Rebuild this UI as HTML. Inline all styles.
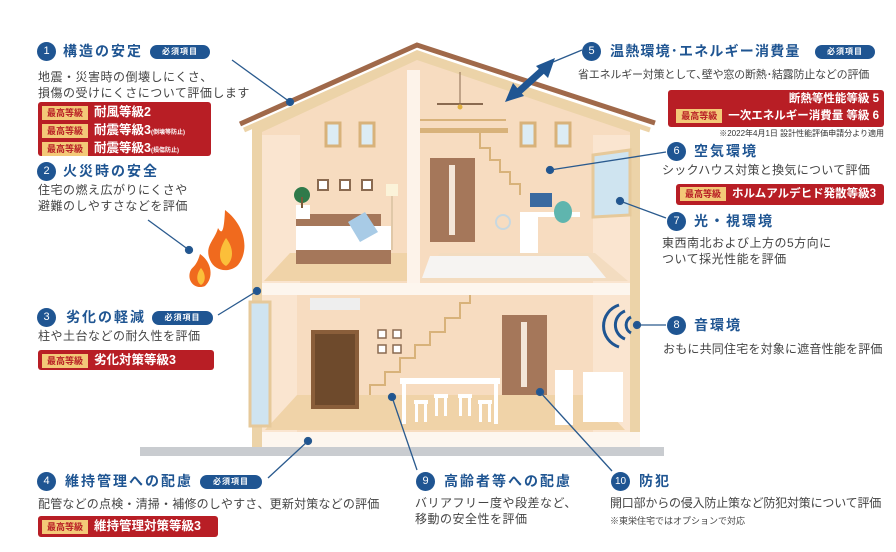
<!DOCTYPE html>
<html><head><meta charset="utf-8">
<style>
*{margin:0;padding:0;box-sizing:border-box}
body{width:896px;height:552px;background:#fff;position:relative;overflow:hidden;font-family:"Liberation Sans","Noto Sans CJK JP",sans-serif;color:#333}
.a{position:absolute;white-space:nowrap}
.n{position:absolute;width:19px;height:19px;border-radius:50%;background:#1f5592;color:#fff;font-size:11px;line-height:19px;text-align:center}
.t{position:absolute;color:#1f5592;font-weight:bold;font-size:14px;letter-spacing:2px;white-space:nowrap;line-height:19px}
.b{position:absolute;background:#1f5592;color:#fff;font-size:8px;font-weight:bold;border-radius:8px;height:14px;line-height:14px;text-align:center;letter-spacing:1px}
.d{position:absolute;font-size:12px;color:#444;white-space:nowrap;line-height:15.5px;letter-spacing:.5px}
.r{position:absolute;background:#b81e25;border-radius:3px;color:#fff;font-weight:bold;font-size:12.5px;white-space:nowrap;overflow:hidden}
.g{display:inline-block;background:#f3c978;color:#b81e25;font-size:9px;padding:0 5px;height:14px;line-height:14px;vertical-align:middle;margin-right:6px;letter-spacing:0}
.row{height:18px;line-height:18px;padding-left:4px}
</style></head><body>
<svg width="896" height="552" style="position:absolute;left:0;top:0">
<rect x="140" y="447" width="524" height="9" fill="#c9ccd0"/>
<polygon points="252,128 417,50 640,128 640,447 252,447" fill="#ecd3a8"/>
<polygon points="262,132 417,60 630,132 630,432 262,432" fill="#f7dcc0"/>
<rect x="262" y="135" width="38" height="150" fill="#fae5d0"/>
<rect x="593" y="135" width="37" height="150" fill="#fae5d0"/>
<rect x="262" y="295" width="35" height="137" fill="#fae5d0"/>
<rect x="593" y="295" width="37" height="137" fill="#fae5d0"/>
<rect x="407" y="70" width="13" height="215" fill="#fdf3ea"/>
<rect x="262" y="283" width="368" height="12" fill="#fdf6ee"/>
<rect x="262" y="432" width="378" height="15" fill="#fdf6ee"/>
<polygon points="290,253 407,253 407,281 264,281" fill="#f0d3a8"/>
<polygon points="440,253 595,253 628,281 420,281" fill="#f3dcc0"/>
<polygon points="430,256 588,256 606,278 422,278" fill="#f6f4f2"/>
<polygon points="297,395 593,395 625,430 265,430" fill="#f0d3a8"/>
<polyline points="240,124 417,45 655,123" fill="none" stroke="#a0694a" stroke-width="5"/>
<polyline points="244,130 417,53 650,130" fill="none" stroke="#ecd3a8" stroke-width="5"/>
<rect x="326" y="123" width="14" height="23" fill="#dcecf4" stroke="#d8b27a" stroke-width="3"/>
<rect x="360" y="123" width="14" height="23" fill="#dcecf4" stroke="#d8b27a" stroke-width="3"/>
<rect x="521" y="123" width="14" height="23" fill="#dcecf4" stroke="#d8b27a" stroke-width="3"/>
<rect x="556" y="123" width="14" height="23" fill="#dcecf4" stroke="#d8b27a" stroke-width="3"/>
<rect x="420" y="128" width="88" height="5" fill="#d8b27a"/>
<line x1="420" y1="120" x2="506" y2="120" stroke="#d8b27a" stroke-width="2"/>
<line x1="437" y1="104" x2="483" y2="104" stroke="#8a6a50" stroke-width="2"/>
<line x1="460" y1="72" x2="460" y2="104" stroke="#8a6a50" stroke-width="1"/>
<circle cx="460" cy="107" r="2.5" fill="#e0b040"/>
<polyline points="480,133 480,148 490,148 490,160 500,160 500,172 510,172 510,184 520,184 520,195" fill="none" stroke="#d8b27a" stroke-width="2"/>
<rect x="430" y="158" width="45" height="84" fill="#a5775a"/>
<rect x="449" y="165" width="6" height="70" fill="#f4e6d8"/>
<polygon points="593,155 630,150 630,215 593,217" fill="#cfe4f0" stroke="#e6c99a" stroke-width="3"/>
<rect x="296" y="214" width="85" height="12" fill="#a5775a"/>
<rect x="296" y="226" width="95" height="24" fill="#fff"/>
<rect x="296" y="250" width="95" height="14" fill="#a5775a"/>
<polygon points="348,222 365,212 378,232 360,242" fill="#a8cbe6"/>
<rect x="296" y="205" width="14" height="14" fill="#fff"/>
<circle cx="302" cy="195" r="8" fill="#2f7a4a"/>
<line x1="302" y1="197" x2="302" y2="208" stroke="#7a5a3a" stroke-width="2"/>
<rect x="318" y="180" width="10" height="10" fill="#fff" stroke="#8a6a50" stroke-width="2"/>
<rect x="340" y="180" width="10" height="10" fill="#fff" stroke="#8a6a50" stroke-width="2"/>
<rect x="362" y="180" width="10" height="10" fill="#fff" stroke="#8a6a50" stroke-width="2"/>
<rect x="386" y="184" width="12" height="12" fill="#fbf3d9"/>
<line x1="392" y1="196" x2="392" y2="250" stroke="#e0c8a8" stroke-width="2"/>
<rect x="520" y="212" width="60" height="5" fill="#fff"/>
<rect x="520" y="217" width="18" height="36" fill="#fff"/>
<rect x="530" y="193" width="22" height="14" fill="#3a6aa0"/>
<ellipse cx="563" cy="212" rx="9" ry="11" fill="#5fb5ae"/>
<circle cx="503" cy="222" r="7" fill="none" stroke="#c8d8e0" stroke-width="2"/>
<rect x="310" y="298" width="50" height="12" fill="#eeeeee"/>
<rect x="250" y="302" width="20" height="124" fill="#cfe4f0" stroke="#e6c99a" stroke-width="3"/>
<rect x="311" y="330" width="48" height="79" fill="#8a5e3a"/>
<rect x="315" y="334" width="40" height="71" fill="#6e4a2c"/>
<rect x="378" y="330" width="8" height="8" fill="#fff" stroke="#8a6a50" stroke-width="1.5"/>
<rect x="393" y="330" width="8" height="8" fill="#fff" stroke="#8a6a50" stroke-width="1.5"/>
<rect x="378" y="345" width="8" height="8" fill="#fff" stroke="#8a6a50" stroke-width="1.5"/>
<rect x="393" y="345" width="8" height="8" fill="#fff" stroke="#8a6a50" stroke-width="1.5"/>
<polyline points="370,395 370,385 385,385 385,372 400,372 400,358 415,358 415,345 430,345 430,332 445,332 445,318 460,318 460,303 470,303 470,295" fill="none" stroke="#d8b27a" stroke-width="2"/>
<rect x="502" y="315" width="45" height="80" fill="#a5775a"/>
<rect x="521" y="322" width="6" height="65" fill="#f4e6d8"/>
<rect x="400" y="378" width="100" height="6" fill="#fff"/>
<rect x="402" y="384" width="4" height="40" fill="#fff"/>
<rect x="494" y="384" width="4" height="40" fill="#fff"/>
<g fill="#fff"><rect x="414" y="400" width="14" height="4"/><rect x="415" y="404" width="3" height="18"/><rect x="424" y="404" width="3" height="18"/>
<rect x="434" y="394" width="14" height="4"/><rect x="435" y="398" width="3" height="18"/><rect x="444" y="398" width="3" height="18"/>
<rect x="458" y="394" width="14" height="4"/><rect x="459" y="398" width="3" height="18"/><rect x="468" y="398" width="3" height="18"/>
<rect x="478" y="400" width="14" height="4"/><rect x="479" y="404" width="3" height="18"/><rect x="488" y="404" width="3" height="18"/></g>
<rect x="555" y="370" width="18" height="55" fill="#fff"/>
<rect x="583" y="372" width="40" height="50" fill="#fff"/>
<path d="M225,210 C245,225 250,250 238,265 C230,273 215,272 210,260 C204,246 215,240 218,228 C222,235 224,232 225,210Z" fill="#f06a1e"/>
<path d="M226,238 C234,248 234,260 226,266 C218,262 218,250 226,238Z" fill="#fbbf3a"/>
<path d="M200,254 C212,262 214,278 205,286 C196,290 187,282 190,272 C192,266 196,268 200,254Z" fill="#f06a1e"/>
<path d="M201,268 C206,274 206,282 201,285 C196,282 196,274 201,268Z" fill="#fbbf3a"/>
<g fill="none" stroke="#1f5592" stroke-width="3">
<path d="M631,317 A9,9 0 0 0 631,333"/>
<path d="M625,311 A15,15 0 0 0 625,339"/>
<path d="M619,305 A22,22 0 0 0 619,347"/>
</g>
<g fill="#1f5592">
<line x1="515" y1="95" x2="545" y2="68" stroke="#1f5592" stroke-width="7"/>
<polygon points="505,102 513,83 524,96"/>
<polygon points="555,58 536,66 548,78"/>
</g>
<g stroke="#2a5a8e" stroke-width="1.3" fill="#1f5592">
<line x1="232" y1="60" x2="290" y2="102"/><circle cx="290" cy="102" r="3.5"/>
<line x1="148" y1="220" x2="189" y2="250"/><circle cx="189" cy="250" r="3.5"/>
<line x1="218" y1="315" x2="257" y2="291"/><circle cx="257" cy="291" r="3.5"/>
<line x1="268" y1="478" x2="308" y2="441"/><circle cx="308" cy="441" r="3.5"/>
<line x1="582" y1="50" x2="553" y2="62"/>
<line x1="666" y1="152" x2="550" y2="170"/><circle cx="550" cy="170" r="3.5"/>
<line x1="666" y1="218" x2="620" y2="201"/><circle cx="620" cy="201" r="3.5"/>
<line x1="666" y1="325" x2="637" y2="325"/><circle cx="637" cy="325" r="3.5"/>
<line x1="417" y1="470" x2="392" y2="397"/><circle cx="392" cy="397" r="3.5"/>
<line x1="612" y1="471" x2="540" y2="392"/><circle cx="540" cy="392" r="3.5"/>
</g>
</svg>

<div class="n" style="left:37px;top:42px">1</div>
<div class="t" style="left:63px;top:42px">構造の安定</div>
<div class="b" style="left:150px;top:45px;width:60px">必須項目</div>
<div class="d" style="left:38px;top:70px">地震・災害時の倒壊しにくさ、<br>損傷の受けにくさについて評価します</div>
<div class="r" style="left:38px;top:102px;width:173px;height:54px;padding-top:1px">
<div class="row"><span class="g">最高等級</span>耐風等級2</div>
<div class="row"><span class="g">最高等級</span>耐震等級3<span style="font-size:6px">(倒壊等防止)</span></div>
<div class="row"><span class="g">最高等級</span>耐震等級3<span style="font-size:6px">(損傷防止)</span></div></div>

<div class="n" style="left:37px;top:162px">2</div>
<div class="t" style="left:63px;top:162px">火災時の安全</div>
<div class="d" style="left:38px;top:183px">住宅の燃え広がりにくさや<br>避難のしやすさなどを評価</div>

<div class="n" style="left:37px;top:308px">3</div>
<div class="t" style="left:66px;top:308px">劣化の軽減</div>
<div class="b" style="left:152px;top:311px;width:61px">必須項目</div>
<div class="d" style="left:38px;top:329px">柱や土台などの耐久性を評価</div>
<div class="r" style="left:38px;top:350px;width:176px;height:20px"><div class="row" style="height:20px;line-height:20px"><span class="g">最高等級</span>劣化対策等級3</div></div>

<div class="n" style="left:37px;top:472px">4</div>
<div class="t" style="left:65px;top:472px">維持管理への配慮</div>
<div class="b" style="left:200px;top:475px;width:62px">必須項目</div>
<div class="d" style="left:38px;top:497px;letter-spacing:.2px">配管などの点検・清掃・補修のしやすさ、更新対策などの評価</div>
<div class="r" style="left:38px;top:516px;width:180px;height:21px"><div class="row" style="height:21px;line-height:21px"><span class="g">最高等級</span>維持管理対策等級3</div></div>

<div class="n" style="left:582px;top:42px">5</div>
<div class="t" style="left:610px;top:42px;letter-spacing:1.2px">温熱環境･エネルギー消費量</div>
<div class="b" style="left:815px;top:45px;width:60px">必須項目</div>
<div class="d" style="left:578px;top:68px;letter-spacing:-.2px;font-size:11px">省エネルギー対策として､壁や窓の断熱･結露防止などの評価</div>
<div class="r" style="left:668px;top:90px;width:216px;height:37px;text-align:right;padding-right:5px;font-size:11.5px">
<div style="height:18px;line-height:19px">断熱等性能等級 5</div>
<div style="height:18px;line-height:17px"><span class="g">最高等級</span>一次エネルギー消費量 等級 6</div></div>
<div class="a" style="right:12px;top:128px;font-size:8px;color:#333">※2022年4月1日 設計性能評価申請分より適用</div>

<div class="n" style="left:667px;top:142px">6</div>
<div class="t" style="left:694px;top:142px">空気環境</div>
<div class="d" style="left:662px;top:163px;letter-spacing:.3px">シックハウス対策と換気について評価</div>
<div class="r" style="left:676px;top:184px;width:208px;height:21px;font-size:11.5px"><div class="row" style="height:21px;line-height:21px"><span class="g">最高等級</span>ホルムアルデヒド発散等級3</div></div>

<div class="n" style="left:667px;top:212px">7</div>
<div class="t" style="left:694px;top:212px">光・視環境</div>
<div class="d" style="left:662px;top:236px">東西南北および上方の5方向に<br>ついて採光性能を評価</div>

<div class="n" style="left:667px;top:316px">8</div>
<div class="t" style="left:694px;top:316px">音環境</div>
<div class="d" style="left:663px;top:342px;letter-spacing:.2px">おもに共同住宅を対象に遮音性能を評価</div>

<div class="n" style="left:416px;top:472px">9</div>
<div class="t" style="left:444px;top:472px">高齢者等への配慮</div>
<div class="d" style="left:415px;top:496px">バリアフリー度や段差など、<br>移動の安全性を評価</div>

<div class="n" style="left:611px;top:472px;font-size:10px">10</div>
<div class="t" style="left:639px;top:472px">防犯</div>
<div class="d" style="left:610px;top:496px;letter-spacing:-.2px">開口部からの侵入防止策など防犯対策について評価</div>
<div class="a" style="left:610px;top:514px;font-size:9px;color:#444">※東栄住宅ではオプションで対応</div>
</body></html>
